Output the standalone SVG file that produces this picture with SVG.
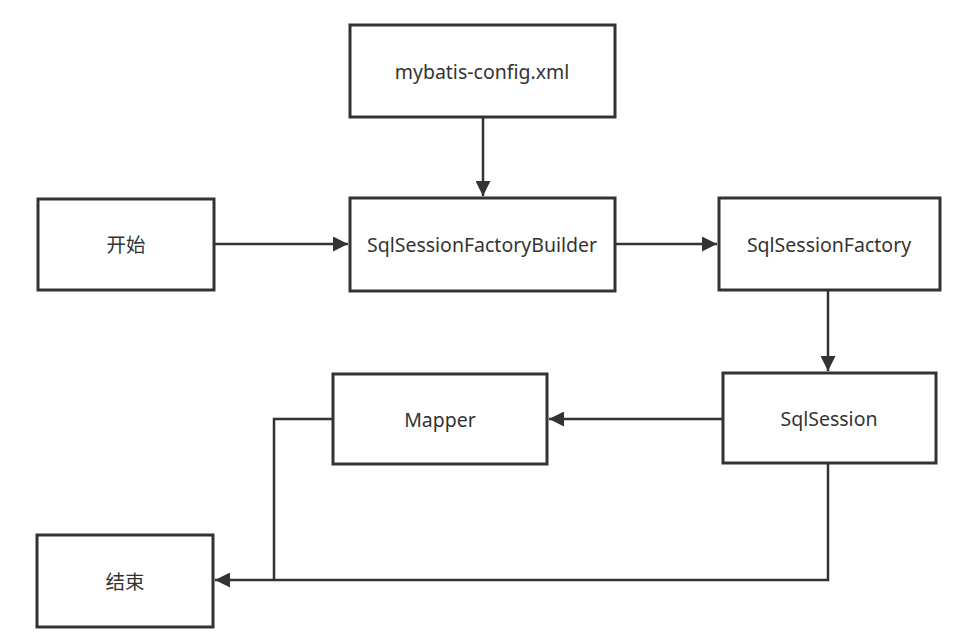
<svg xmlns="http://www.w3.org/2000/svg" width="964" height="643" viewBox="0 0 964 643">
<style>
.box{fill:#fff;stroke:#333;stroke-width:3}
.lbl{font-family:"Noto Sans","Noto Sans CJK SC",sans-serif;font-size:19.5px;fill:#333;text-anchor:middle;dominant-baseline:central}
.edge{fill:none;stroke:#333;stroke-width:2.5}
</style>
<defs>
<marker id="arr" viewBox="0 0 10 10" refX="10" refY="5" markerWidth="7" markerHeight="6" markerUnits="strokeWidth" orient="auto">
<path d="M0,0 L10,5 L0,10 z" fill="#333"/>
</marker>
</defs>
<rect width="964" height="643" fill="#fff"/>
<g id="connectors">
<path class="edge" d="M483,118 V196" marker-end="url(#arr)"/>
<path class="edge" d="M215,244 H348" marker-end="url(#arr)"/>
<path class="edge" d="M616,244 H717" marker-end="url(#arr)"/>
<path class="edge" d="M828,291 V371" marker-end="url(#arr)"/>
<path class="edge" d="M722,419 H549" marker-end="url(#arr)"/>
<path class="edge" d="M332,419 H274 V580"/>
<path class="edge" d="M828,464 V580 H215" marker-end="url(#arr)"/>
</g>
<g id="config"><rect class="box" x="350" y="25" width="265" height="92"/><text class="lbl" x="482" y="71">mybatis-config.xml</text></g>
<g id="start"><rect class="box" x="38" y="199" width="176" height="91"/><text class="lbl" x="126" y="244">开始</text></g>
<g id="builder"><rect class="box" x="350" y="198" width="265" height="93"/><text class="lbl" x="482" y="244">SqlSessionFactoryBuilder</text></g>
<g id="factory"><rect class="box" x="719" y="198" width="221" height="92"/><text class="lbl" x="829" y="244">SqlSessionFactory</text></g>
<g id="mapper"><rect class="box" x="333" y="374" width="214" height="90"/><text class="lbl" x="440" y="419">Mapper</text></g>
<g id="session"><rect class="box" x="723" y="373" width="213" height="90"/><text class="lbl" x="829" y="418">SqlSession</text></g>
<g id="end"><rect class="box" x="37" y="535" width="176" height="92"/><text class="lbl" x="125" y="581">结束</text></g>
</svg>
